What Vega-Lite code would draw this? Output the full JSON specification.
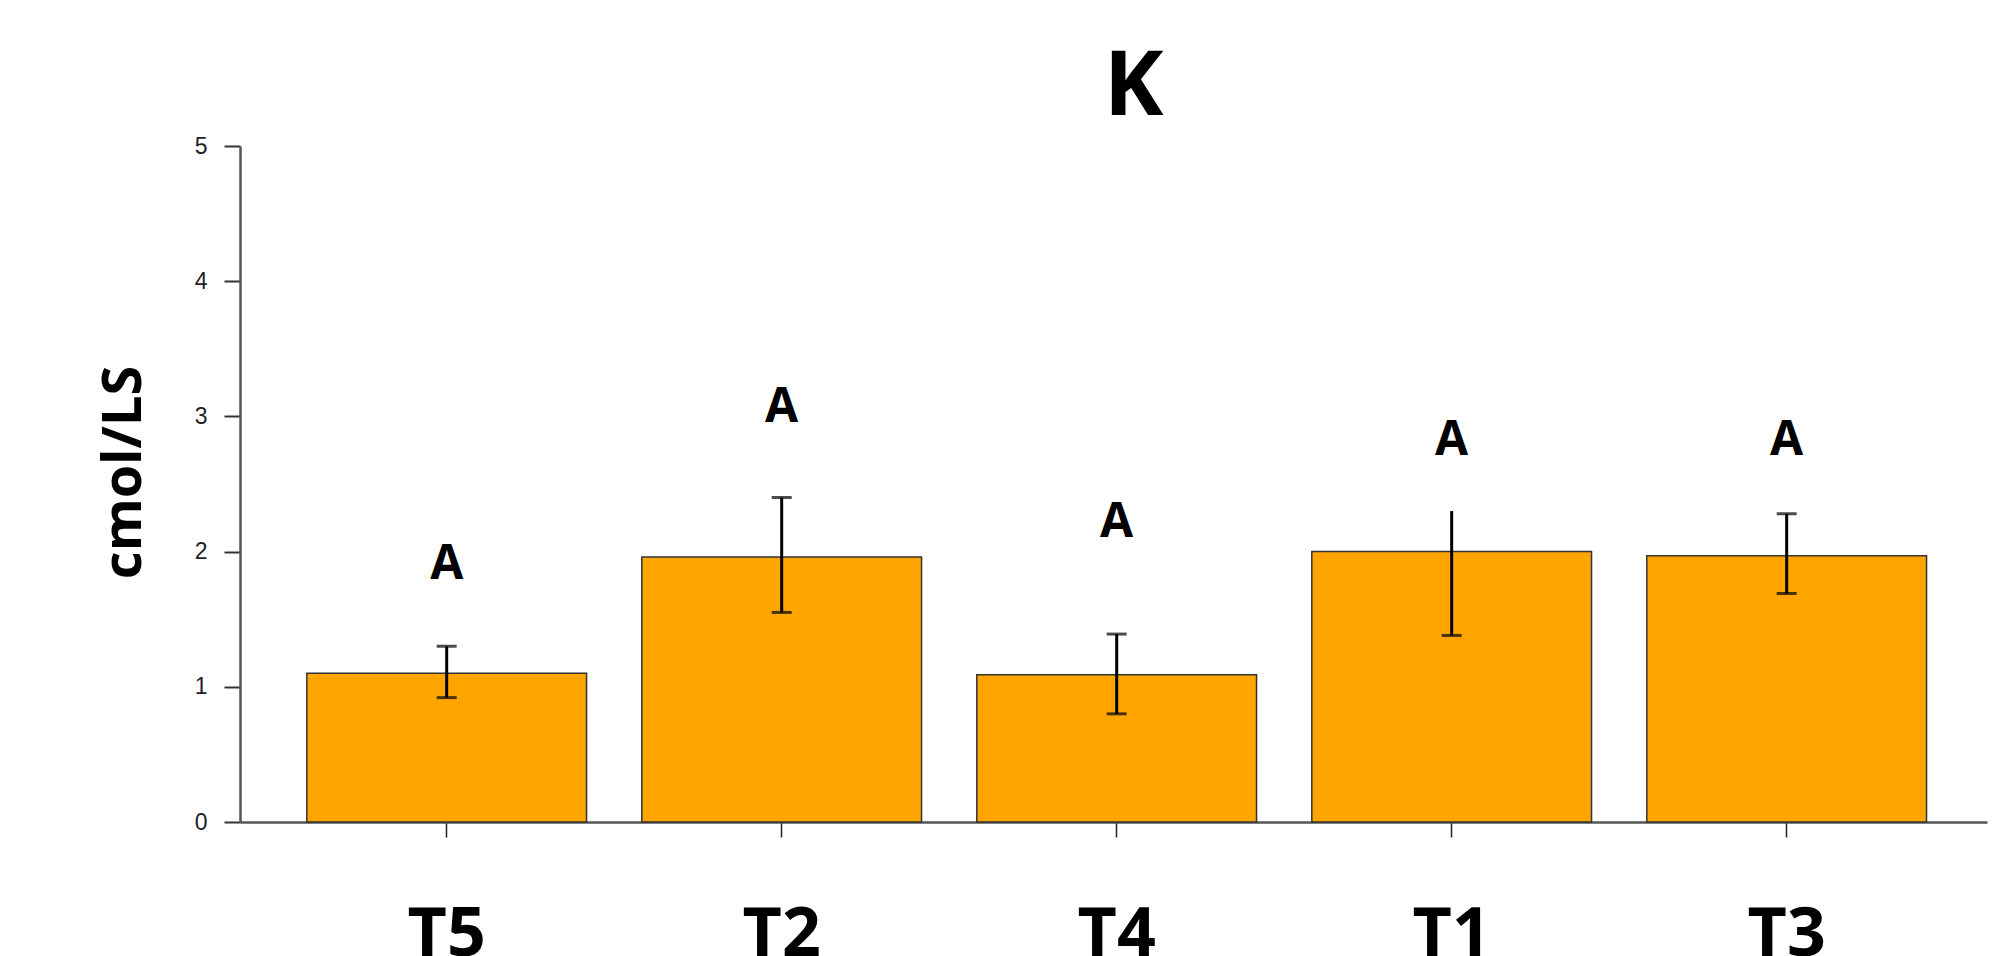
{
  "$schema": "https://vega.github.io/schema/vega-lite/v6.json",
  "width": 1747,
  "height": 676,
  "autosize": "none",
  "padding": {"left": 240, "top": 146, "right": 29, "bottom": 134},
  "background": "white",
  "title": {"text": "K", "font": "Open Sans", "fontWeight": "bold", "fontSize": 90, "color": "black", "anchor": "middle", "baseline": "alphabetic", "offset": -70, "dx": 20},
  "config": {"view": {"stroke": null}},
  "data": {"values": [
    {"trt": "T5", "mean": 1.10, "lo": 0.92, "hi": 1.30, "letter": "A", "ly": 1.90},
    {"trt": "T2", "mean": 1.96, "lo": 1.55, "hi": 2.40, "letter": "A", "ly": 3.06},
    {"trt": "T4", "mean": 1.09, "lo": 0.80, "hi": 1.39, "letter": "A", "ly": 2.21},
    {"trt": "T1", "mean": 2.00, "lo": 1.38, "hi": 2.30, "letter": "A", "ly": 2.82},
    {"trt": "T3", "mean": 1.97, "lo": 1.69, "hi": 2.28, "letter": "A", "ly": 2.82}
  ]},
  "encoding": {
    "x": {
      "field": "trt", "type": "nominal", "sort": null,
      "scale": {"paddingInner": 0.165, "paddingOuter": 0.19, "align": 0.525},
      "axis": {
        "title": null, "labelAngle": 0,
        "labelFont": "Open Sans", "labelFontWeight": "bold", "labelFontSize": 68, "labelColor": "black",
        "labelBaseline": "alphabetic", "labelPadding": 118,
        "tickSize": 15, "tickColor": "#222", "tickWidth": 1.5,
        "domainColor": "#555", "domainWidth": 2.5
      }
    }
  },
  "layer": [
    {
      "mark": {"type": "bar", "color": "#FFA500", "stroke": "#333", "strokeWidth": 1.5},
      "encoding": {
        "y": {
          "field": "mean", "type": "quantitative",
          "scale": {"domain": [0, 5], "nice": false},
          "axis": {
            "values": [0, 1, 2, 3, 4, 5], "format": "d", "grid": false,
            "title": "cmol/LS", "titleFont": "Open Sans", "titleFontWeight": "bold", "titleFontSize": 54, "titleColor": "black",
            "titleAngle": 270, "titleBaseline": "alphabetic", "titleAlign": "center", "titleX": -100, "titleY": 326,
            "labelFont": "Liberation Sans", "labelFontSize": 23, "labelColor": "#222", "labelPadding": 17,
            "tickSize": 16, "tickColor": "#333", "tickWidth": 2,
            "domainColor": "#555", "domainWidth": 2.5
          }
        }
      }
    },
    {
      "mark": {"type": "rule", "color": "black", "strokeWidth": 3},
      "encoding": {"y": {"field": "lo", "type": "quantitative"}, "y2": {"field": "hi"}}
    },
    {
      "mark": {"type": "tick", "color": "black", "thickness": 3, "size": 20},
      "encoding": {"y": {"field": "lo", "type": "quantitative"}}
    },
    {
      "transform": [{"filter": "datum.trt != 'T1'"}],
      "mark": {"type": "tick", "color": "black", "thickness": 3, "size": 20},
      "encoding": {"y": {"field": "hi", "type": "quantitative"}}
    },
    {
      "mark": {"type": "text", "font": "Open Sans", "fontWeight": "bold", "fontSize": 48, "baseline": "middle", "color": "black"},
      "encoding": {"y": {"field": "ly", "type": "quantitative"}, "text": {"field": "letter"}}
    }
  ]
}
